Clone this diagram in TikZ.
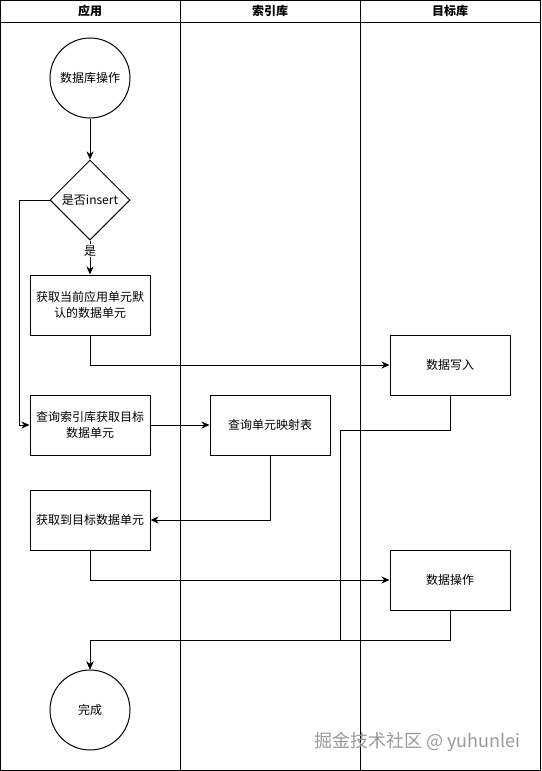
\documentclass[tikz,border=0pt]{standalone}
\usepackage{fontspec}
\setmainfont{Noto Sans CJK SC}
\usepackage{tikz}
\usetikzlibrary{shapes.geometric, arrows.meta, positioning, calc}
\tikzset{
  box/.style={rectangle, draw, line width=1pt, minimum width=120pt, minimum height=60pt, align=center, inner sep=2pt, font=\fontsize{12}{16}\selectfont},
  decision/.style={diamond, draw, line width=1pt, minimum width=80pt, minimum height=80pt, aspect=1, inner sep=0pt, font=\fontsize{12}{15}\selectfont},
  terminal/.style={circle, draw, line width=1pt, minimum size=80pt, inner sep=0pt, font=\fontsize{12}{15}\selectfont},
  lanehead/.style={font=\fontsize{12}{15}\selectfont\bfseries},
  arrow/.style={-{Stealth[length=8pt, width=7pt, inset=2.5pt]}, line width=1pt},
  link/.style={line width=1pt},
}
\begin{document}
\begin{tikzpicture}[x=1pt, y=-1pt]
  \useasboundingbox (0,0) rectangle (541,771);
  % swimlanes
  \draw[link] (0.5,0.5) rectangle (540.5,770.5);
  \draw[link] (0.5,22) -- (540.5,22);
  \draw[link] (180,0.5) -- (180,770.5);
  \draw[link] (360,0.5) -- (360,770.5);
  \node[lanehead] (hApp) at (90,11) {应用};
  \node[lanehead] (hIdx) at (270,11) {索引库};
  \node[lanehead] (hTgt) at (450,11) {目标库};

  % nodes
  \node[terminal] (dbop) at (90,78) {数据库操作};
  \node[decision] (isins) at (90,200) {是否insert};
  \node[box] (getdef) at (90,305) {获取当前应用单元默\\认的数据单元};
  \node[box] (query) at (90,425) {查询索引库获取目标\\数据单元};
  \node[box] (getunit) at (90,520) {获取到目标数据单元};
  \node[terminal] (done) at (90,710) {完成};
  \node[box] (lookup) at (270,425) {查询单元映射表};
  \node[box] (write) at (450,365) {数据写入};
  \node[box] (dataop) at (450,580) {数据操作};
  \coordinate (merge) at (340,640);

  % connectors
  \draw[arrow] (dbop) -- (isins);
  \draw[arrow] (isins) -- node[pos=0.3, fill=white, inner sep=1pt, font=\fontsize{12}{15}\selectfont] {是} (getdef);
  \draw[arrow] (isins.west) -- ++(-30,0) |- (query.west);
  \draw[arrow] (getdef.south) |- (write.west);
  \draw[arrow] (query) -- (lookup);
  \draw[arrow] (lookup.south) |- (getunit.east);
  \draw[arrow] (getunit.south) |- (dataop.west);
  \draw[arrow] (dataop.south) -- ++(0,30) -| (done.north);
  \draw[arrow] (write.south) -- ++(0,35) -| (merge) -| (done.north);

  \node[text=black!40, font=\fontsize{18}{21}\selectfont, anchor=east] (mark) at (524,742) {掘金技术社区 @ yuhunlei};
\end{tikzpicture}
\end{document}
